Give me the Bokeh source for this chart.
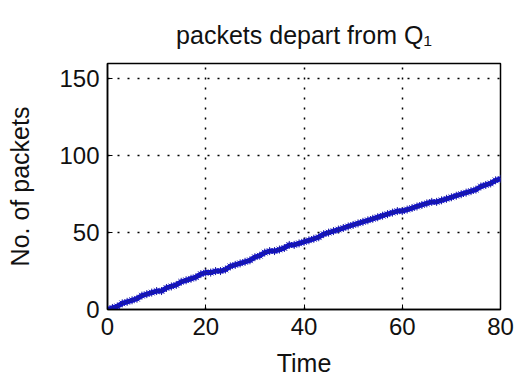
from bokeh.plotting import figure
from bokeh.models import Range1d, FixedTicker
from bokeh.embed import file_html
from bokeh.resources import INLINE

time = list(range(0, 81))
packets = [0, 1, 2, 4, 5, 6, 7, 9, 10, 11,
           12, 12, 14, 15, 16, 18, 19, 20, 21, 23,
           24, 24, 25, 25, 26, 28, 29, 30, 31, 32,
           34, 35, 37, 38, 38, 39, 40, 42, 42, 43,
           44, 45, 46, 47, 49, 50, 51, 52, 53, 54,
           55, 56, 57, 58, 59, 60, 61, 62, 63, 64,
           64, 65, 66, 67, 68, 69, 70, 70, 71, 72,
           73, 74, 75, 76, 77, 78, 80, 81, 82, 84, 85]
x_ticks = [0, 20, 40, 60, 80]
y_ticks = [0, 50, 100, 150]
title_text = "packets depart from Q\u2081"
x_label = "Time"
y_label = "No. of packets"

FONT = "Liberation Sans"

p = figure(width=516, height=379, output_backend="svg", toolbar_location=None,
           x_range=Range1d(0, 80), y_range=Range1d(0, 160),
           min_border_left=107, min_border_right=16, min_border_top=63,
           min_border_bottom=69, title=title_text)
p.background_fill_color = "white"
p.border_fill_color = "white"
p.outline_line_color = "black"
p.outline_line_width = 1.5

p.title.align = "center"
p.title.text_font = FONT
p.title.text_font_size = "25px"
p.title.text_font_style = "normal"
p.title.text_color = "#111111"
p.title.standoff = 29

for ax, ticks in ((p.xaxis[0], x_ticks), (p.yaxis[0], y_ticks)):
    ax.ticker = FixedTicker(ticks=ticks)
    ax.major_tick_in = 5
    ax.major_tick_out = 0
    ax.minor_tick_in = 0
    ax.minor_tick_out = 0
    ax.axis_line_color = "black"
    ax.axis_line_width = 1.5
    ax.major_tick_line_color = "black"
    ax.major_label_text_font = FONT
    ax.major_label_text_font_size = "24px"
    ax.major_label_text_color = "#111111"
    ax.axis_label_text_font = FONT
    ax.axis_label_text_font_size = "25px"
    ax.axis_label_text_font_style = "normal"
    ax.axis_label_text_color = "#111111"
    ax.major_label_standoff = 8

p.xaxis[0].axis_label = x_label
p.xaxis[0].axis_label_standoff = 11
p.yaxis[0].axis_label = y_label
p.yaxis[0].axis_label_standoff = 22

p.xgrid.ticker = FixedTicker(ticks=x_ticks)
p.ygrid.ticker = FixedTicker(ticks=y_ticks)
for g in (p.xgrid, p.ygrid):
    g.grid_line_color = "black"
    g.grid_line_dash = "2 8"
    g.grid_line_width = 1.5

p.line(time, packets, line_color="#0a0aee", line_width=5)
p.scatter(time, packets, marker="asterisk", size=8, line_color="#1a1aa0", line_width=1)

open("out.html", "w").write(file_html(p, INLINE))
